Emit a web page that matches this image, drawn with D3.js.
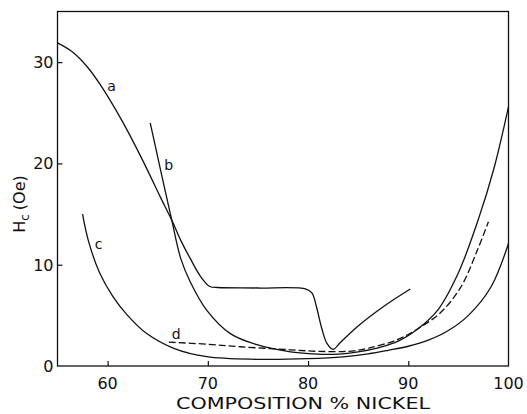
<!DOCTYPE html>
<html>
<head>
<meta charset="utf-8">
<script src="https://cdn.jsdelivr.net/npm/d3@7"></script>
<style>
  body { margin: 0; background: #fff; }
  svg { display: block; font-family: "DejaVu Sans", sans-serif; }
  .tick-label { font-size: 16px; fill: #111; }
  .axis-label { font-size: 16px; fill: #111; }
  .curve { fill: none; stroke: #111; stroke-width: 1.3; }
  .curve-label { font-size: 14px; fill: #111; }
</style>
</head>
<body>
<div id="chart"></div>
<script>
const width = 527, height = 414;

// x = nickel %, y = coercivity Hc (Oe)
const curveA = [
  [55, 31.9], [56.5, 31.0], [58, 29.5], [59.25, 27.8], [61.5, 24.1],
  [63.5, 20.3], [65.3, 16.6], [66.4, 14.4], [67.3, 12.4], [68.25, 10.6],
  [69.3, 8.8], [70.2, 7.85], [71, 7.75], [75, 7.7], [79.8, 7.6], [80.4, 7.2],
  [80.8, 6.0], [81.4, 3.6], [81.9, 2.2], [82.5, 1.65], [83.2, 2.3],
  [85, 3.95], [87.5, 5.85], [90.2, 7.6]
];
const curveB = [
  [64.25, 24.0], [66.4, 14.4], [67.3, 10.6], [68.25, 8.3], [69.9, 5.5],
  [72.25, 3.2], [74.9, 2.1], [78.25, 1.4], [80.5, 1.2], [82.5, 1.15],
  [85, 1.4], [87, 1.8], [89, 2.45], [91, 3.7], [93, 5.6], [95, 9.2],
  [97, 14.5], [98.6, 19.7], [100, 25.6]
];
const curveC = [
  [57.5, 15.0], [58.1, 12.3], [59.2, 9.2], [60.5, 6.9], [61.9, 5.1],
  [63.9, 3.2], [66.6, 1.75], [69.9, 0.92], [74.9, 0.66], [80, 0.72],
  [83.5, 0.9], [86, 1.2], [88, 1.55], [90, 1.95], [92, 2.55],
  [94, 3.5], [96, 5.0], [98.25, 7.8], [100, 12.1]
];
const curveD = [
  [66.1, 2.35], [70, 2.15], [73.25, 1.9], [78.25, 1.6], [81, 1.45],
  [84, 1.45], [86, 1.75], [88.9, 2.6], [91, 3.7], [93.25, 5.3],
  [95.25, 7.8], [96.9, 11.45], [98, 14.25]
];

const xTicks = [60, 70, 80, 90, 100];
const yTicks = [0, 10, 20, 30];

const series = [
  { name: "a", data: curveA, dashed: false, label: [60.4, 27.6] },
  { name: "b", data: curveB, dashed: false, label: [66.1, 19.8] },
  { name: "c", data: curveC, dashed: false, label: [59.1, 12.0] },
  { name: "d", data: curveD, dashed: true,  label: [66.85, 3.2] }
];

const x = d3.scaleLinear().domain([55, 100]).range([57.5, 508.5]);
const y = d3.scaleLinear().domain([0, 35]).range([366, 11.5]);

const svg = d3.select("#chart")
  .append("svg")
  .attr("width", width)
  .attr("height", height)
  .attr("viewBox", `0 0 ${width} ${height}`);

// frame
svg.append("rect")
  .attr("x", x(55)).attr("y", y(35))
  .attr("width", x(100) - x(55)).attr("height", y(0) - y(35))
  .attr("fill", "none").attr("stroke", "#111").attr("stroke-width", 1.3);

// axes, ticks pointing inward
svg.append("g")
  .attr("transform", `translate(0,${y(0)})`)
  .call(d3.axisTop(x).tickValues(xTicks.slice(0, -1)).tickSize(5).tickFormat(""))
  .call(g => g.select(".domain").remove())
  .call(g => g.selectAll("line").attr("stroke", "#111").attr("stroke-width", 1.2));

svg.append("g")
  .attr("transform", `translate(${x(55)},0)`)
  .call(d3.axisRight(y).tickValues(yTicks.slice(1)).tickSize(5).tickFormat(""))
  .call(g => g.select(".domain").remove())
  .call(g => g.selectAll("line").attr("stroke", "#111").attr("stroke-width", 1.2));

// tick labels
svg.append("g").selectAll("text").data(xTicks).join("text")
  .attr("class", "tick-label")
  .attr("x", d => x(d)).attr("y", y(0) + 23)
  .attr("text-anchor", "middle")
  .text(d => d);

svg.append("g").selectAll("text").data(yTicks).join("text")
  .attr("class", "tick-label")
  .attr("x", x(55) - 4).attr("y", d => y(d) + 6)
  .attr("text-anchor", "end")
  .text(d => d);

// axis titles
svg.append("text")
  .attr("class", "axis-label")
  .attr("x", 303).attr("y", 409)
  .attr("text-anchor", "middle")
  .attr("textLength", 254)
  .attr("lengthAdjust", "spacingAndGlyphs")
  .text("COMPOSITION % NICKEL");

const yl = svg.append("text")
  .attr("class", "axis-label")
  .attr("font-size", 17)
  .attr("transform", "translate(25,204) rotate(-90)")
  .attr("text-anchor", "middle");
yl.append("tspan").text("H");
yl.append("tspan").attr("font-size", 12).attr("dy", 4).text("c");
yl.append("tspan").attr("dy", -4).attr("dx", 4).text("(Oe)");

// curves
const line = d3.line()
  .x(d => x(d[0]))
  .y(d => y(d[1]))
  .curve(d3.curveCatmullRom.alpha(0.5));

svg.append("g").selectAll("path").data(series).join("path")
  .attr("class", "curve")
  .attr("stroke-dasharray", d => d.dashed ? "7,3" : null)
  .attr("d", d => line(d.data));

svg.append("g").selectAll("text").data(series).join("text")
  .attr("class", "curve-label")
  .attr("x", d => x(d.label[0])).attr("y", d => y(d.label[1]) + 5)
  .attr("text-anchor", "middle")
  .text(d => d.name);
</script>
</body>
</html>
